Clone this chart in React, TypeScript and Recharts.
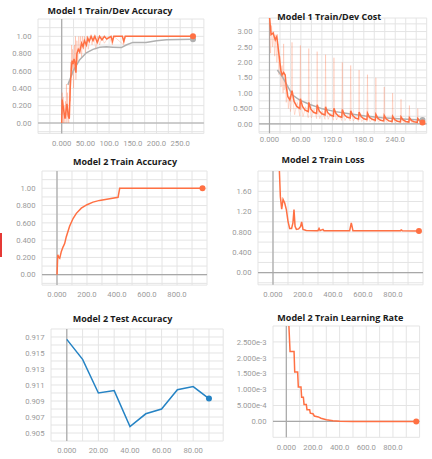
import React from "react";
import { LineChart, Line, XAxis, YAxis, CartesianGrid, ReferenceLine, ReferenceDot } from "recharts";

const ORANGE = "#ff7043";
const GRAY = "#b0b0b0";
const BLUE = "#2583c4";

// Model 1 accuracy
const m1AccRawSteps = [0, 1, 2, 3, 4, 5, 6, 7, 8, 9, 10, 11, 12, 13, 14, 15, 16, 17, 18, 19, 20, 21, 22, 23, 24, 25, 26, 27, 28, 29, 30, 32, 34, 36, 38, 40, 42, 44, 46, 48, 50, 53, 56, 60, 64, 68, 72, 76, 80, 85, 90, 100, 107, 110, 131, 134, 160, 277];
const m1AccRaw = [0, 0.35, 0.1, 0.3, 0, 0.2, 0.05, 0, 0.25, 0.05, 0.45, 0, 0.35, 0.1, 0.05, 0, 0.3, 0.5, 0.25, 0.7, 0.6, 0.9, 0.55, 0.85, 0.8, 0.4, 0.75, 0.9, 0.6, 1.0, 0.5, 0.95, 0.7, 1.0, 0.8, 1.0, 0.75, 1.0, 0.85, 1.0, 0.8, 1.0, 0.85, 1.0, 0.9, 1.0, 0.85, 1.0, 0.9, 1.0, 0.92, 1.0, 0.9, 1.0, 0.9, 1.0, 1.0, 1.0];
const m1AccTrainSteps = [0, 1, 5, 7, 11, 14, 16, 18, 20, 22, 24, 26, 28, 30, 32, 35, 38, 42, 45, 48, 52, 55, 58, 62, 66, 70, 75, 80, 85, 90, 95, 104, 107, 110, 128, 131, 134, 277];
const m1AccTrain = [0, 0.27, 0.12, 0.05, 0.22, 0.08, 0.05, 0.4, 0.6, 0.72, 0.68, 0.74, 0.7, 0.58, 0.8, 0.85, 0.82, 0.92, 0.88, 0.95, 0.9, 0.98, 0.94, 1.0, 0.95, 1.0, 0.93, 1.0, 0.96, 1.0, 0.97, 1.0, 0.94, 1.0, 1.0, 0.94, 1.0, 1.0];
const m1AccDevSteps = [13, 24, 38, 52, 66, 80, 94, 108, 126, 136, 150, 178, 200, 221, 277];
const m1AccDev = [0.44, 0.6, 0.73, 0.81, 0.85, 0.875, 0.88, 0.875, 0.87, 0.9, 0.93, 0.93, 0.95, 0.96, 0.965];

// Model 1 cost
const m1CostRawSteps = [0, 2, 4, 6, 8, 10, 12, 14, 16, 18, 20, 22, 24, 26, 27, 28, 30, 32, 34, 36, 38, 40, 42,
  43, 44, 48, 53, 58, 59, 60, 64, 69, 74, 75, 76, 80, 85, 90, 91, 92, 96, 101, 106, 107, 108, 112, 117, 122,
  123, 124, 128, 133, 138, 139, 140, 144, 149, 154, 155, 156, 160, 165, 170, 171, 172, 176, 181, 186,
  187, 188, 192, 197, 202, 203, 204, 208, 213, 218, 219, 220, 224, 229, 234, 235, 236, 240, 245, 250,
  251, 252, 256, 261, 266, 267, 268, 272, 277, 282, 283, 284, 288, 292];
const m1CostRaw = [3.3, 2.3, 3.2, 2.5, 3.0, 2.2, 2.9, 2.0, 2.6, 1.6, 2.2, 1.2, 1.9, 1.0, 2.6, 1.1, 1.5, 0.7, 1.2, 0.5, 0.9, 0.4, 0.7,
  2.65, 0.85, 0.3, 0.7, 0.25, 2.55, 0.65, 0.24, 0.56, 0.2, 2.45, 0.56, 0.2, 0.48, 0.17, 2.35, 0.5, 0.17, 0.41, 0.15,
  2.25, 0.45, 0.15, 0.35, 0.12, 2.15, 0.41, 0.13, 0.31, 0.11, 2.0, 0.38, 0.11, 0.27, 0.1, 1.9, 0.34, 0.1, 0.22, 0.08,
  1.75, 0.31, 0.08, 0.2, 0.07, 1.6, 0.28, 0.07, 0.17, 0.06, 1.5, 0.25, 0.06, 0.14, 0.05, 1.2, 0.22, 0.05, 0.11, 0.04,
  1.0, 0.2, 0.04, 0.1, 0.03, 0.8, 0.18, 0.04, 0.08, 0.03, 0.6, 0.16, 0.03, 0.07, 0.02, 0.5, 0.14, 0.03, 0.06];
const m1CostTrainSteps = [0, 3, 7, 11, 14, 19, 22, 24, 27, 30, 32, 35, 39,
  43, 47, 52, 58, 59, 63, 68, 74, 75, 79, 84, 90, 91, 95, 100, 106, 107, 111, 116, 122, 123, 127, 132, 138,
  139, 143, 148, 154, 155, 159, 164, 170, 171, 175, 180, 186, 187, 191, 196, 202, 203, 207, 212, 218,
  219, 223, 228, 234, 235, 239, 244, 250, 251, 255, 260, 266, 267, 271, 276, 282, 283, 287, 292];
const m1CostTrain = [3.5, 2.9, 2.95, 2.73, 2.84, 2.13, 1.7, 1.59, 1.67, 1.59, 1.21, 0.89, 0.78,
  1.08, 0.73, 0.57, 0.5, 0.82, 0.57, 0.45, 0.4, 0.7, 0.48, 0.38, 0.34, 0.62, 0.42, 0.33, 0.29, 0.56, 0.37, 0.29, 0.25,
  0.51, 0.34, 0.25, 0.22, 0.47, 0.3, 0.22, 0.19, 0.43, 0.27, 0.19, 0.16, 0.39, 0.24, 0.17, 0.14, 0.35, 0.21, 0.15, 0.12,
  0.31, 0.18, 0.12, 0.1, 0.28, 0.16, 0.1, 0.08, 0.25, 0.14, 0.09, 0.07, 0.23, 0.13, 0.08, 0.06, 0.2, 0.11, 0.07, 0.05,
  0.18, 0.1, 0.05];
const m1CostDevSteps = [15, 25, 35, 44, 57, 76, 101, 126, 152, 183, 215, 253, 292];
const m1CostDev = [1.75, 1.52, 1.21, 0.94, 0.78, 0.64, 0.49, 0.4, 0.33, 0.26, 0.2, 0.16, 0.13];

// Model 2
const m2AccSteps = [0, 5, 12, 18, 29, 40, 51, 62, 84, 107, 129, 162, 200, 240, 284, 351, 407, 418, 600, 800, 970];
const m2Acc = [0, 0.23, 0.2, 0.19, 0.27, 0.32, 0.36, 0.44, 0.56, 0.65, 0.71, 0.77, 0.81, 0.84, 0.86, 0.88, 0.895, 1.0, 1.0, 1.0, 1.0];
const m2LossSteps = [0, 30, 49, 58, 67, 78, 89, 100, 111, 124, 133, 140, 147, 156, 171, 184, 191, 200, 222, 289, 300, 307, 314, 333, 340, 511, 522, 533, 850, 855, 862, 973];
const m2Loss = [6.0, 3.0, 1.5, 1.25, 1.44, 1.37, 1.24, 1.01, 0.87, 0.87, 0.98, 1.24, 0.91, 0.85, 0.86, 0.91, 1.0, 0.85, 0.83, 0.826, 0.826, 0.87, 0.826, 0.85, 0.826, 0.826, 0.98, 0.826, 0.826, 0.84, 0.826, 0.82];
const m2TestSteps = [0, 10, 20, 30, 40, 50, 60, 70, 80, 90];
const m2Test = [0.9167, 0.9142, 0.91, 0.9103, 0.9058, 0.9074, 0.908, 0.9104, 0.9108, 0.9093];
const m2LrSteps = [0, 28, 58, 63, 85, 90, 110, 115, 128, 133, 150, 155, 175, 180, 200, 210, 240, 260, 300, 350, 400, 500, 975];
const m2Lr = [0.0048, 0.0022, 0.0022, 0.00155, 0.00155, 0.00108, 0.00108, 0.00076, 0.00076, 0.00053, 0.00053, 0.00037, 0.00037, 0.00026, 0.00024, 0.00017, 0.00014, 0.0001, 0.00005, 0.00002, 0.000005, 0, 0];

// ticks
const xTicks50 = [-50, -25, 0, 25, 50, 75, 100, 125, 150, 175, 200, 225, 250, 275, 300];
const xLabels50 = ["", "", "0.000", "", "50.00", "", "100.0", "", "150.0", "", "200.0", "", "250.0", "", ""];
const xTicks60 = [-20, 0, 20, 40, 60, 80, 100, 120, 140, 160, 180, 200, 220, 240, 260, 280, 300];
const xLabels60 = ["", "0.000", "", "", "60.00", "", "", "120.0", "", "", "180.0", "", "", "240.0", "", "", ""];
const xTicks1k = [-100, 0, 100, 200, 300, 400, 500, 600, 700, 800, 900, 1000];
const xLabels1k = ["", "0.000", "", "200.0", "", "400.0", "", "600.0", "", "800.0", "", ""];
const xTicksTest = [-10, 0, 10, 20, 30, 40, 50, 60, 70, 80, 90, 99];
const xLabelsTest = ["", "0.000", "", "20.00", "", "40.00", "", "60.00", "", "80.00", "", ""];
const yTicksAcc = [-0.1, 0, 0.1, 0.2, 0.3, 0.4, 0.5, 0.6, 0.7, 0.8, 0.9, 1.0, 1.1, 1.2];
const yLabelsAcc = ["", "0.00", "", "0.200", "", "0.400", "", "0.600", "", "0.800", "", "1.00", "", ""];
const yTicksCost = [-0.25, 0, 0.25, 0.5, 0.75, 1, 1.25, 1.5, 1.75, 2, 2.25, 2.5, 2.75, 3, 3.25];
const yLabelsCost = ["", "0.00", "", "0.500", "", "1.00", "", "1.50", "", "2.00", "", "2.50", "", "3.00", ""];
const yTicksLoss = [-0.2, 0, 0.2, 0.4, 0.6, 0.8, 1.0, 1.2, 1.4, 1.6, 1.8, 2.0];
const yLabelsLoss = ["", "0.00", "", "0.400", "", "0.800", "", "1.20", "", "1.60", "", ""];
const yTicksTest = [0.904, 0.905, 0.906, 0.907, 0.908, 0.909, 0.91, 0.911, 0.912, 0.913, 0.914, 0.915, 0.916, 0.917, 0.918];
const yLabelsTest = ["", "0.905", "", "0.907", "", "0.909", "", "0.911", "", "0.913", "", "0.915", "", "0.917", ""];
const yTicksLr = [-0.0005, 0, 0.0005, 0.001, 0.0015, 0.002, 0.0025, 0.003];
const yLabelsLr = ["", "0.00", "5.000e-4", "1.000e-3", "1.500e-3", "2.000e-3", "2.500e-3", ""];

const zip = (steps: number[], values: number[]) => steps.map((x, i) => ({ x, y: values[i] }));

const labelFor = (ticks: number[], labels: string[]) => (v: number) => {
  const i = ticks.findIndex((t) => Math.abs(t - v) < 1e-9);
  return i >= 0 ? labels[i] : "";
};

const tickStyle = { fontSize: 7.7, fill: "#9a9a9a", fontFamily: "Roboto, sans-serif" };

type Series = { steps: number[]; values: number[]; color: string; width: number; opacity?: number; endDot?: boolean };

type PanelProps = {
  title: string;
  titleX: number;
  titleY: number;
  plot: number[];
  xDomain: number[];
  xTicks: number[];
  xLabels: string[];
  xGap: number;
  yDomain: number[];
  yTicks: number[];
  yLabels: string[];
  series: Series[];
};

// room around each plot area, taken by the axes
const PL = 50, PT = 6, PR = 6, PB = 22;

function Panel(p: PanelProps) {
  const [l, t, r, b] = p.plot;
  const w = r - l + PL + PR;
  const h = b - t + PT + PB;
  return (
    <>
      <div style={{ position: "absolute", left: l - PL, top: t - PT }}>
        <LineChart width={w} height={h} margin={{ left: 0, top: PT, right: PR, bottom: 0 }}>
          <CartesianGrid stroke="#e4e4e4" />
          <XAxis
            type="number"
            dataKey="x"
            domain={p.xDomain}
            ticks={p.xTicks}
            interval={0}
            allowDataOverflow
            height={PB}
            tickSize={0}
            tickMargin={p.xGap}
            axisLine={false}
            tick={tickStyle}
            tickFormatter={labelFor(p.xTicks, p.xLabels)}
          />
          <YAxis
            type="number"
            domain={p.yDomain}
            ticks={p.yTicks}
            interval={0}
            allowDataOverflow
            width={PL}
            tickSize={0}
            tickMargin={6.5}
            axisLine={false}
            tick={tickStyle}
            tickFormatter={labelFor(p.yTicks, p.yLabels)}
          />
          <ReferenceLine x={0} stroke="#a8a8a8" strokeWidth={1.2} />
          <ReferenceLine y={0} stroke="#a8a8a8" strokeWidth={1.2} />
          {p.series.map((s, i) => (
            <Line
              key={i}
              data={zip(s.steps, s.values)}
              dataKey="y"
              type="linear"
              stroke={s.color}
              strokeWidth={s.width}
              strokeOpacity={s.opacity ?? 1}
              dot={false}
              activeDot={false}
              isAnimationActive={false}
            />
          ))}
          {p.series
            .filter((s) => s.endDot)
            .map((s, i) => (
              <ReferenceDot
                key={"dot" + i}
                x={s.steps[s.steps.length - 1]}
                y={s.values[s.values.length - 1]}
                r={3}
                fill={s.color}
                stroke="none"
              />
            ))}
        </LineChart>
      </div>
      <div
        style={{
          position: "absolute",
          left: p.titleX,
          top: p.titleY,
          transform: "translate(-50%, -50%)",
          whiteSpace: "nowrap",
          fontFamily: "'Open Sans', sans-serif",
          fontWeight: 700,
          fontSize: 9,
          color: "#1a1a1a",
        }}
      >
        {p.title}
      </div>
    </>
  );
}

export default function App() {
  return (
    <div style={{ position: "absolute", left: 0, top: 0, width: 432, height: 459, background: "#fff", overflow: "hidden" }}>
      <Panel
        title="Model 1 Train/Dev Accuracy"
        titleX={110}
        titleY={9.5}
        plot={[38.3, 19.3, 204.2, 133.7]}
        xDomain={[-50, 300]}
        xTicks={xTicks50}
        xLabels={xLabels50}
        xGap={7.3}
        yDomain={[-0.12, 1.2]}
        yTicks={yTicksAcc}
        yLabels={yLabelsAcc}
        series={[
          { steps: m1AccRawSteps, values: m1AccRaw, color: ORANGE, width: 1, opacity: 0.25 },
          { steps: m1AccDevSteps, values: m1AccDev, color: GRAY, width: 1.5, endDot: true },
          { steps: m1AccTrainSteps, values: m1AccTrain, color: ORANGE, width: 1.5, endDot: true },
        ]}
      />
      <Panel
        title="Model 1 Train/Dev Cost"
        titleX={329.3}
        titleY={15.7}
        plot={[258.8, 18, 426.5, 133.2]}
        xDomain={[-20, 300]}
        xTicks={xTicks60}
        xLabels={xLabels60}
        xGap={3.4}
        yDomain={[-0.3, 3.44]}
        yTicks={yTicksCost}
        yLabels={yLabelsCost}
        series={[
          { steps: m1CostRawSteps, values: m1CostRaw, color: ORANGE, width: 1, opacity: 0.22 },
          { steps: m1CostDevSteps, values: m1CostDev, color: GRAY, width: 1.5, endDot: true },
          { steps: m1CostTrainSteps, values: m1CostTrain, color: ORANGE, width: 1.5, endDot: true },
        ]}
      />
      <Panel
        title="Model 2 Train Accuracy"
        titleX={125}
        titleY={161}
        plot={[42.3, 171, 207.3, 285.1]}
        xDomain={[-100, 1000]}
        xTicks={xTicks1k}
        xLabels={xLabels1k}
        xGap={6.9}
        yDomain={[-0.12, 1.2]}
        yTicks={yTicksAcc}
        yLabels={yLabelsAcc}
        series={[{ steps: m2AccSteps, values: m2Acc, color: ORANGE, width: 1.5, endDot: true }]}
      />
      <Panel
        title="Model 2 Train Loss"
        titleX={323}
        titleY={159.3}
        plot={[257.7, 171.4, 422.7, 285.2]}
        xDomain={[-100, 1000]}
        xTicks={xTicks1k}
        xLabels={xLabels1k}
        xGap={7.1}
        yDomain={[-0.24, 2.0]}
        yTicks={yTicksLoss}
        yLabels={yLabelsLoss}
        series={[{ steps: m2LossSteps, values: m2Loss, color: ORANGE, width: 1.5, endDot: true }]}
      />
      <Panel
        title="Model 2 Test Accuracy"
        titleX={122.5}
        titleY={317.7}
        plot={[51.1, 329.3, 223.3, 441.3]}
        xDomain={[-10, 99]}
        xTicks={xTicksTest}
        xLabels={xLabelsTest}
        xGap={7}
        yDomain={[0.904, 0.918]}
        yTicks={yTicksTest}
        yLabels={yLabelsTest}
        series={[{ steps: m2TestSteps, values: m2Test, color: BLUE, width: 1.5, endDot: true }]}
      />
      <Panel
        title="Model 2 Train Learning Rate"
        titleX={340.3}
        titleY={317.3}
        plot={[272.7, 325.9, 419.3, 437.2]}
        xDomain={[-100, 1000]}
        xTicks={xTicks1k}
        xLabels={xLabels1k}
        xGap={6.8}
        yDomain={[-0.0005, 0.003]}
        yTicks={yTicksLr}
        yLabels={yLabelsLr}
        series={[{ steps: m2LrSteps, values: m2Lr, color: ORANGE, width: 1.5, endDot: true }]}
      />
      <div style={{ position: "absolute", left: 0, top: 233, width: 2, height: 24, background: "#e53935" }} />
    </div>
  );
}
